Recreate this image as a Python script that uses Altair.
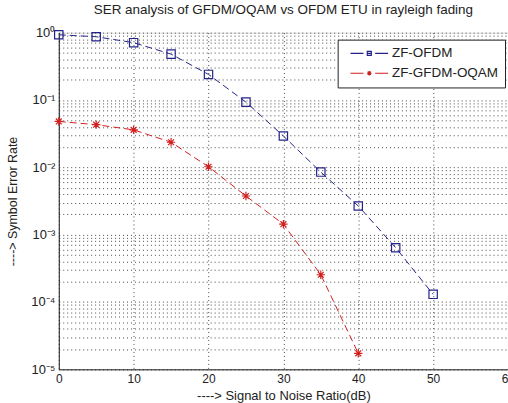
import altair as alt
import pandas as pd

snr = [0, 5, 10, 15, 20, 25, 30, 35, 40, 45, 50]
ser_ofdm = [0.93, 0.87, 0.71, 0.48, 0.24, 0.093, 0.0292, 0.0085, 0.00267, 0.00064, 0.00013]
snr_gfdm = [0, 5, 10, 15, 20, 25, 30, 35, 40]
ser_gfdm = [0.048, 0.043, 0.036, 0.0236, 0.0102, 0.00375, 0.00143, 0.000254, 0.0000173]
series_names = ["ZF-OFDM", "ZF-GFDM-OQAM"]
colors = ["#23238a", "#d21f1f"]
x_ticks = [0, 10, 20, 30, 40, 50, 60]
decade_labels = ["10\u2070", "10\u207b\u00b9", "10\u207b\u00b2", "10\u207b\u00b3", "10\u207b\u2074", "10\u207b\u2075"]

rows = [{"snr": s, "ser": v, "series": series_names[0]} for s, v in zip(snr, ser_ofdm)]
rows += [{"snr": s, "ser": v, "series": series_names[1]} for s, v in zip(snr_gfdm, ser_gfdm)]
df = pd.DataFrame(rows)

y_vals = []
for e in range(-5, 0):
    for m in range(1, 10):
        y_vals.append(m * 10.0 ** e)
y_vals.append(1.0)

label_expr = (
    "abs(datum.value / pow(10, round(log(datum.value)/LN10)) - 1) < 0.01 ? "
    + str(decade_labels)
    + "[-round(log(datum.value)/LN10)] : ''"
)

FONT = "Liberation Sans"

x_enc = alt.X(
    "snr:Q",
    scale=alt.Scale(domain=[0, 60], nice=False),
    axis=alt.Axis(
        values=x_ticks,
        title="---->    Signal to Noise Ratio(dB)",
        grid=True,
        gridDash=[1, 3],
        gridColor="#333333",
        gridOpacity=0.9,
        tickSize=0,
        labelFlush=False,
        labelPadding=4,
        labelFontSize=12,
        labelFont=FONT,
        labelColor="#222222",
        titleFont=FONT,
        titleFontSize=13,
        titleFontWeight="normal",
        titleColor="#222222",
        titleY=26,
        titleBaseline="middle",
        domainColor="#222222",
    ),
)
y_enc = alt.Y(
    "ser:Q",
    scale=alt.Scale(type="log", domain=[1e-5, 1], nice=False),
    axis=alt.Axis(
        values=y_vals,
        labelExpr=label_expr,
        title="---->    Symbol Error Rate",
        grid=True,
        gridDash=[1, 3],
        gridColor="#333333",
        gridOpacity=0.9,
        tickSize=0,
        labelFlush=False,
        labelPadding=4,
        labelFontSize=13,
        labelFont=FONT,
        labelColor="#222222",
        labelOverlap=False,
        titleFont=FONT,
        titleFontSize=12.5,
        titleFontWeight="normal",
        titleColor="#222222",
        titleX=-46,
        titleY=169,
        titleBaseline="middle",
        domainColor="#222222",
    ),
)

square_path = "M-1,-1H1V1H-1Z"
star_path = "M0,-1V1M-1,0H1M-0.7,-0.7L0.7,0.7M-0.7,0.7L0.7,-0.7"
marker_paths = [square_path, star_path]

layers = []
for name, col, mp in zip(series_names, colors, marker_paths):
    base = alt.Chart(df).transform_filter(alt.datum.series == name)
    layers.append(base.mark_line(strokeDash=[7, 4], strokeWidth=1, color=col).encode(x=x_enc, y=y_enc))
    layers.append(
        base.mark_point(filled=False, strokeWidth=1.2, opacity=1, size=70, shape=mp, color=col).encode(
            x=x_enc, y=y_enc
        )
    )

leg_sq = "M-4.2,0H-1.3M-0.45,-0.45H0.45V0.45H-0.45ZM-0.45,0H0.45M1.3,0H4.2"
leg_st = "M-4.2,0H-1.3M-0.5,0H0.5M0,-0.5V0.5M-0.36,-0.36L0.36,0.36M-0.36,0.36L0.36,-0.36M1.3,0H4.2"

legend_cfg = alt.Legend(
    title=None,
    orient="none",
    legendX=280,
    legendY=7,
    symbolSize=81,
    symbolStrokeWidth=1.2,
    symbolOpacity=1,
    symbolFillColor="transparent",
    symbolOffset=18,
    labelFont=FONT,
    labelFontSize=13.5,
    labelColor="#222222",
    labelOffset=16,
    rowPadding=5,
    padding=7,
    strokeColor="#222222",
    fillColor="white",
    cornerRadius=0,
    labelLimit=200,
)

legend_layer = alt.Chart(df).mark_point(filled=False, opacity=0, size=1).encode(
    x=x_enc,
    y=y_enc,
    color=alt.Color("series:N", scale=alt.Scale(domain=series_names, range=colors), legend=legend_cfg),
    shape=alt.Shape(
        "series:N",
        scale=alt.Scale(domain=series_names, range=[leg_sq, leg_st]),
        legend=legend_cfg,
    ),
)
layers.append(legend_layer)

chart = (
    alt.layer(*layers)
    .properties(
        width=451,
        height=338,
        padding={"left": 59, "top": 32, "right": 0, "bottom": 33},
        autosize=alt.AutoSizeParams(type="none"),
        title=alt.TitleParams(
            "SER analysis of GFDM/OQAM vs OFDM ETU in rayleigh fading",
            font=FONT,
            fontSize=13.5,
            fontWeight="normal",
            color="#222222",
            offset=10,
        ),
    )
    .configure_view(stroke="#333333", strokeWidth=1)
    .configure(background="white")
)

chart.save("out.html", embed_options={"renderer": "svg", "actions": False})
